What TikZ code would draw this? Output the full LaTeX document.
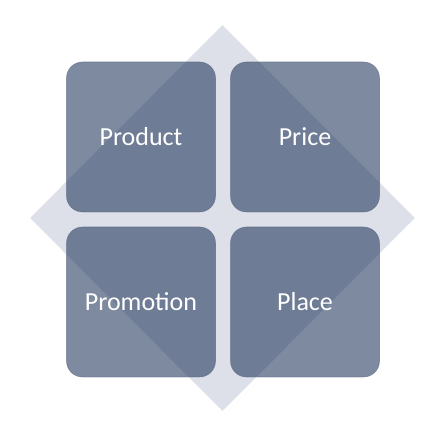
\documentclass[tikz,border=0pt]{standalone}
\usepackage{fontspec}
\setmainfont{Carlito}
\usetikzlibrary{positioning, shapes.geometric}

\definecolor{tileblue}{RGB}{20,42,82}
\definecolor{tileedge}{RGB}{90,104,130}
\definecolor{diamondgray}{RGB}{221,224,233}

\begin{document}
\begin{tikzpicture}[
    x=1pt, y=-1pt,
    node distance=15pt and 15pt,
    tile/.style={rectangle, rounded corners=16pt, minimum width=149pt, minimum height=150pt,
        inner sep=0pt, outer sep=0pt, fill=tileblue, fill opacity=0.55, text opacity=1,
        draw=tileedge, draw opacity=0.6, line width=0.6pt, text=white, font=\fontsize{26}{30}\selectfont},
    backdrop/.style={diamond, aspect=1, fill=diamondgray, minimum width=385pt, minimum height=386pt, inner sep=0pt},
]
\useasboundingbox (0,0) rectangle (440,430);
\node[backdrop] (frame) at (222.5,218) {};
\node[tile] (product) at (141,137) {Product};
\node[tile, right=of product] (price) {Price};
\node[tile, below=of product] (promotion) {Promotion};
\node[tile, right=of promotion] (place) {Place};

\end{tikzpicture}
\end{document}
